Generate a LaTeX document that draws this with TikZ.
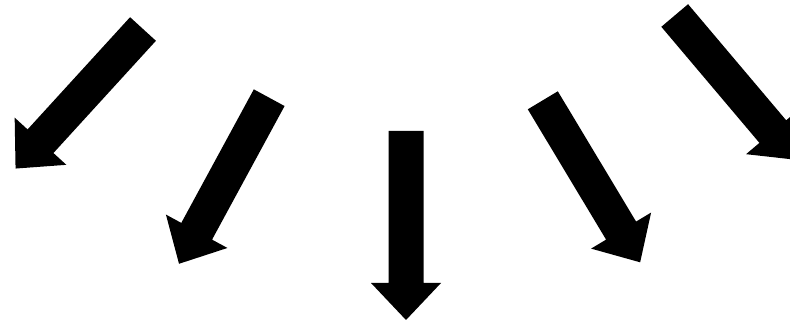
\documentclass[tikz,border=0pt]{standalone}
\begin{document}
\begin{tikzpicture}[x=1pt,y=1pt,
  bigarrow/.pic={\fill[black] (0,-17.5) -- (152,-17.5) -- (152,-35) -- (189,0) -- (152,35) -- (152,17.5) -- (0,17.5) -- cycle;}]
\useasboundingbox (0,0) rectangle (790,323);
\clip (0,0) rectangle (790,323);
\pic[rotate=227.6] at (143,294) {bigarrow};
\pic[rotate=241.5] at (269.2,225.3) {bigarrow};
\pic[rotate=270] at (406,192) {bigarrow};
\pic[rotate=301] at (542.8,222.7) {bigarrow};
\pic[rotate=310.2] at (674.7,307.5) {bigarrow};
\end{tikzpicture}
\end{document}
